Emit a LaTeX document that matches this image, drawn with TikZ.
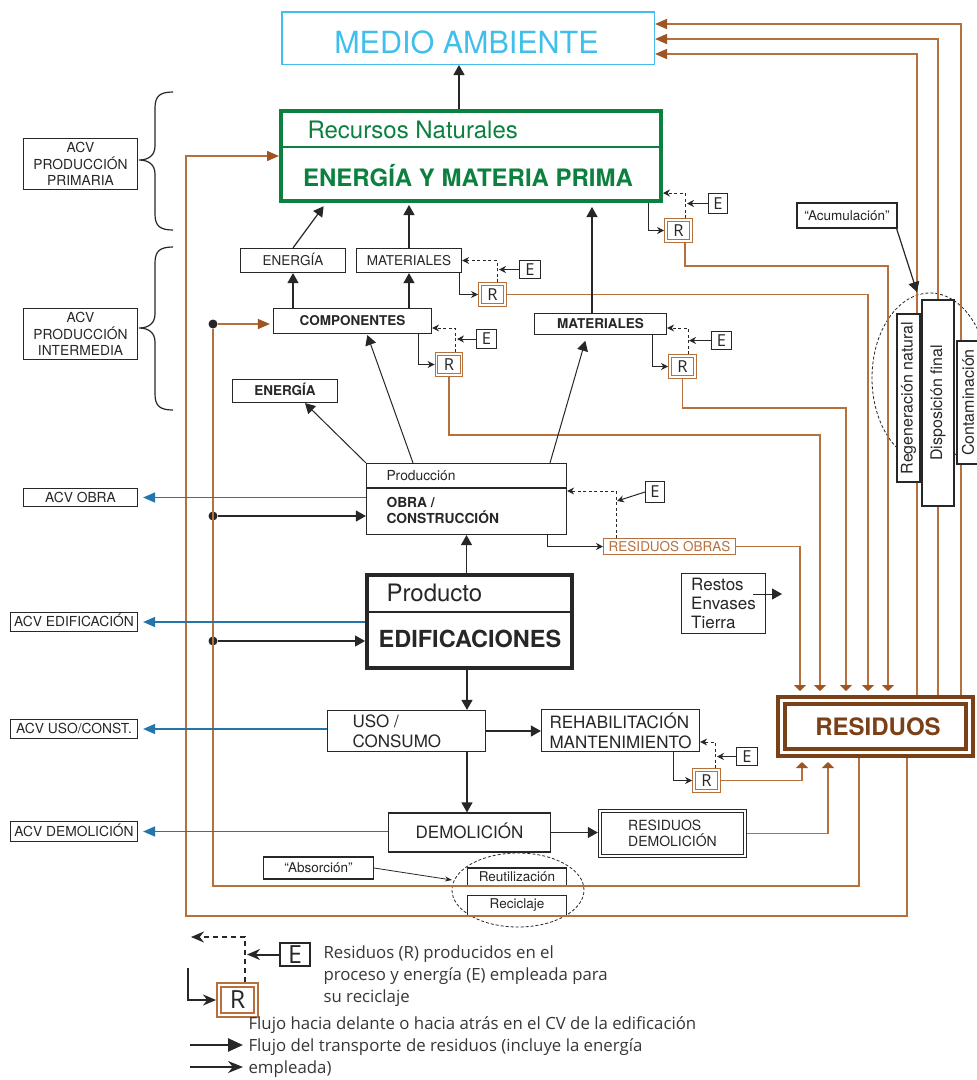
\documentclass[tikz,border=0pt]{standalone}
\usepackage{fontspec}
\setmainfont{TeX Gyre Heros}
\newfontfamily\legendfont{Open Sans}
\usetikzlibrary{arrows.meta}
\newcommand{\fsz}[2]{\fontsize{#1}{#2}\selectfont}

\definecolor{ink}{RGB}{40,38,38}
\definecolor{brw}{RGB}{182,112,62}
\definecolor{brwhead}{RGB}{160,84,34}
\definecolor{brwdark}{RGB}{122,64,24}
\definecolor{acvblue}{RGB}{36,118,170}
\definecolor{natgreen}{RGB}{12,128,62}
\definecolor{skycyan}{RGB}{64,190,236}
\definecolor{legtext}{RGB}{55,55,55}

\tikzset{
  box/.style={draw=ink, fill=white, line width=1.2pt, inner sep=0pt, text=ink},
  t135/.style={font=\fsz{13.5}{13.5}, text height=9.7pt, text depth=0pt},
  b135/.style={font=\bfseries\fsz{13.5}{13.5}, text height=9.7pt, text depth=0pt},
  t13/.style={font=\fsz{13.8}{13.8}, text height=9.9pt, text depth=0pt},
  t17/.style={font=\fsz{17}{17}, text height=12.2pt, text depth=0pt},
  flow/.style={draw=ink, line width=1.2pt, -{Triangle[length=10pt,width=11pt]}},
  tinyarr/.style={draw=ink, line width=1pt, -{Stealth[length=7pt,width=7pt]}},
  dsh/.style={draw=ink, line width=1pt, dash pattern=on 3pt off 2.5pt, -{Stealth[length=7pt,width=7pt]}},
  brline/.style={draw=brw, line width=1.4pt},
  brarr/.style={brline, -{Triangle[length=12pt,width=10pt,color=brwhead]}},
  brin/.style={brline, -{Triangle[length=6pt,width=12pt,color=brwhead]}, shorten >=4pt},
  bluearr/.style={draw=acvblue, line width=1.4pt, -{Triangle[length=12pt,width=10pt]}, shorten >=5pt},
  rbox/.style={draw=brw, double=white, double distance=1.8pt, line width=1pt, fill=white,
    inner sep=0pt, outer sep=1.9pt, minimum width=25pt, minimum height=21pt, text=ink,
    font=\legendfont\fsz{16.5}{16.5}},
  ebox/.style={draw=ink, fill=white, line width=1pt, inner sep=0pt, text=ink,
    font=\legendfont\fsz{16.5}{16.5}},
  vbox/.style={box, rotate=90, font=\fsz{16}{16}},
  dot/.style={circle, fill=ink, inner sep=0pt, minimum size=9pt},
  ovaldash/.style={draw=ink, line width=0.8pt, dash pattern=on 3pt off 2pt},
  legtxt/.style={anchor=base west, text=legtext, font=\legendfont\fsz{16.8}{16.8}},
}

\begin{document}
\begin{tikzpicture}[x=1pt,y=-1pt]
\fill[white] (0,0) rectangle (977,1080);
\useasboundingbox (0,0) rectangle (977,1080);
\clip (0,0) rectangle (977,1080);

% ---------- dashed groupings ----------
\draw[ovaldash] (930,378) ellipse [x radius=58pt, y radius=85pt];
\draw[ovaldash] (518,890) ellipse [x radius=66pt, y radius=37pt];

% ---------- main boxes ----------
\node[draw=skycyan, line width=1.5pt, fill=white, minimum width=372.5pt, minimum height=52.5pt, inner sep=0pt] (medio) at (468,38) {};
\node[anchor=base, text=skycyan, font=\fsz{30.5}{30.5}] (medioTxt) at (466.5,53) {MEDIO AMBIENTE};

\node[draw=natgreen, line width=4pt, fill=white, minimum width=380pt, minimum height=90pt, inner sep=0pt] (green) at (471,156) {};
\draw[natgreen, line width=1.3pt] (green.west |- 0,147) -- (green.east |- 0,147);
\node[anchor=base west, text=natgreen, font=\fsz{24}{24}] (recnat) at (304,138) {Recursos Naturales};
\node[anchor=base, text=natgreen, font=\bfseries\fsz{24}{24}] (emp) at (468,186) {ENERGÍA Y MATERIA PRIMA};

\node[box, t135, minimum width=105pt, minimum height=24pt] (energ1) at (293,260.5) {ENERGÍA};
\node[box, t135, minimum width=105pt, minimum height=24pt] (mat1) at (409,260.5) {MATERIALES};
\node[box, b135, minimum width=158pt, minimum height=25pt] (comp) at (352.5,321) {COMPONENTES};
\node[box, b135, minimum width=132pt, minimum height=21pt] (mat2) at (600.5,324) {MATERIALES};
\node[box, b135, minimum width=105pt, minimum height=23pt] (energ2) at (285,391) {ENERGÍA};

\node[box, minimum width=200pt, minimum height=71pt] (obra) at (466.5,499) {};
\draw[ink, line width=1.2pt] (obra.west |- 0,488) -- (obra.east |- 0,488);
\node[anchor=base west, text=ink, font=\fsz{13.8}{13.8}] (prodTxt) at (383,480) {Producción};
\node[anchor=base west, text=ink, font=\bfseries\fsz{13.8}{13.8}] (obraTxt1) at (383,507) {OBRA /};
\node[anchor=base west, text=ink, font=\bfseries\fsz{13.8}{13.8}] (obraTxt2) at (383,523) {CONSTRUCCIÓN};

\node[draw=ink, line width=4pt, fill=white, minimum width=205pt, minimum height=93pt, inner sep=0pt] (edif) at (469.5,621.5) {};
\draw[ink, line width=1.3pt] (edif.west |- 0,612) -- (edif.east |- 0,612);
\node[anchor=base west, text=ink, font=\fsz{24}{24}] (prodtoTxt) at (383,601) {Producto};
\node[anchor=base, text=ink, font=\bfseries\fsz{23.5}{23.5}] (edifTxt) at (470,647) {EDIFICACIONES};

\node[box, minimum width=158pt, minimum height=41pt] (uso) at (406.5,731) {};
\node[anchor=base west, text=ink, font=\fsz{17}{17}] (usoTxt1) at (349,727) {USO /};
\node[anchor=base west, text=ink, font=\fsz{17}{17}] (usoTxt2) at (349,747) {CONSUMO};

\node[box, align=left, font=\fsz{17}{20}, minimum width=158pt, minimum height=42pt] (rehab) at (620.5,730.5) {REHABILITACIÓN\\MANTENIMIENTO};
\node[box, t17, minimum width=162pt, minimum height=39pt] (demol) at (469.5,832.5) {DEMOLICIÓN};
\node[draw=ink, double=white, line width=1.2pt, double distance=2pt, fill=white, minimum width=145pt, minimum height=45pt,
  outer sep=2.2pt, inner sep=0pt, align=left, text=ink, font=\fsz{14}{16}] (resdem) at (672.5,833.5) {RESIDUOS\\DEMOLICIÓN};

\node[draw=brw, line width=1pt, fill=white, minimum width=132pt, minimum height=16pt, inner sep=0pt, text=brw,
  t135] (resobras) at (669.5,546.5) {RESIDUOS OBRAS};
\node[box, align=left, font=\fsz{17}{19}, minimum width=84pt, minimum height=60pt] (restos) at (723.5,603.5) {Restos\\Envases\\Tierra};

\node[draw=brwdark, double=white, line width=4pt, double distance=3pt, fill=white, minimum width=188pt, minimum height=52pt,
  inner sep=0pt, outer sep=5.5pt] (residuos) at (875.5,726.5) {};
\node[anchor=base, text=brwdark, font=\bfseries\fsz{24}{24}] (residuosTxt) at (878,735) {RESIDUOS};

\node[box, font=\fsz{13.5}{13.5}, minimum width=99pt, minimum height=18pt] (reut) at (517,877) {Reutilización};
\node[box, font=\fsz{13.5}{13.5}, minimum width=99pt, minimum height=20pt] (recic) at (517,905.5) {Reciclaje};
\node[box, font=\fsz{13.5}{13.5}, minimum width=110pt, minimum height=22pt] (absorc) at (318.5,868) {“Absorción”};

% ---------- life-cycle stage labels ----------
\node[box, align=center, font=\fsz{13.8}{16.5}, minimum width=114pt, minimum height=51pt] (acvprim) at (80.5,164) {ACV\\PRODUCCIÓN\\PRIMARIA};
\node[box, align=center, font=\fsz{13.8}{16.5}, minimum width=114pt, minimum height=51pt] (acvint) at (80.5,334) {ACV\\PRODUCCIÓN\\INTERMEDIA};
\node[box, t13, minimum width=114pt, minimum height=18pt] (acvobra) at (80.5,497.5) {ACV OBRA};
\node[box, t13, minimum width=127pt, minimum height=19pt] (acvedif) at (74,622) {ACV EDIFICACIÓN};
\node[box, t13, minimum width=127pt, minimum height=19pt] (acvuso) at (74,729) {ACV USO/CONST.};
\node[box, t13, minimum width=127pt, minimum height=20pt] (acvdem) at (74,831.5) {ACV DEMOLICIÓN};

% braces
\draw[ink, line width=1.2pt] (173,92) .. controls (160,92) and (155,96) .. (155,108) -- (155,146)
  .. controls (155,155) and (149,160) .. (139,160) .. controls (149,160) and (155,165) .. (155,174)
  -- (155,214) .. controls (155,226) and (160,230) .. (173,230);
\draw[ink, line width=1.2pt] (173,247) .. controls (160,247) and (155,251) .. (155,263) -- (155,314)
  .. controls (155,323) and (149,328) .. (139,328) .. controls (149,328) and (155,333) .. (155,342)
  -- (155,394) .. controls (155,406) and (160,410) .. (173,410);

% ---------- R / E blocks ----------
\node[rbox] (Rg) at (678.5,230.5) {R};
\node[ebox, minimum width=19pt, minimum height=20pt] (Eg) at (718,203.5) {E};
\node[rbox] (Rm1) at (492.5,294.5) {R};
\node[ebox, minimum width=21pt, minimum height=18pt] (Em1) at (530,269.5) {E};
\node[rbox] (Rc) at (449,364.5) {R};
\node[ebox, minimum width=20pt, minimum height=19pt] (Ec) at (486.5,339) {E};
\node[rbox] (Rm2) at (682.5,366.5) {R};
\node[ebox, minimum width=20pt, minimum height=18pt] (Em2) at (721.5,340.5) {E};
\node[rbox] (Rh) at (706.5,780.5) {R};
\node[ebox, minimum width=21pt, minimum height=18pt] (Eh) at (747,756.5) {E};
\node[ebox, minimum width=19pt, minimum height=21pt] (Eo) at (655,492) {E};

% ---------- waste flows (brown) ----------
\coordinate (bendG) at (888,266);
\coordinate (bendM2) at (846,408);
\coordinate (bendC) at (820,435);
\coordinate (loopIn) at (213,886);
\coordinate (loopOut) at (186,916);
\node[dot] (dot1) at (213,324) {};
\node[dot] (dot2) at (213,516) {};
\node[dot] (dot3) at (213,641) {};

\draw[brin] (resobras.east) -| (residuos.north -| 800,0);
\draw[brin] (Rc.south) |- (bendC) -- (residuos.north -| bendC);
\draw[brin] (Rm2.south) |- (bendM2) -- (residuos.north -| bendM2);
\draw[brin] (Rm1.east) -| (residuos.north -| 868,0);
\draw[brin] ([xshift=6.5pt]Rg.south) |- (bendG) -- (residuos.north -| bendG);
\draw[brin] (Rh.east) -| (residuos.south -| 802,0);
\draw[brin] (resdem.east) -| (residuos.south -| 828,0);

\draw[brline] (residuos.south -| 859,0) |- (loopIn) -- (dot1);
\draw[brarr] (residuos.south -| 907,0) |- (loopOut) |- (green.west);
\draw[brarr, shorten >=3pt] (dot1) -- (dot1 -| comp.west);

\draw[brarr] (residuos.north -| 961,0) |- ([yshift=14pt]medio.east);
\draw[brarr] (residuos.north -| 938,0) |- ([yshift=-1pt]medio.east);
\draw[brarr] (residuos.north -| 917,0) |- ([yshift=-16pt]medio.east);

% ---------- forward / backward flows ----------
\draw[flow] (green.north -| 459,0) -- (medio.south -| 459,0);
\draw[flow, shorten >=4pt] (energ1.north) -- (green.south -| 326,0);
\draw[flow, shorten >=2pt] (mat1.north) -- (mat1.north |- green.south);
\draw[flow, shorten >=4pt] (mat2.north -| 592,0) -- (green.south -| 592,0);
\draw[flow] (comp.north -| energ1.south) -- (energ1.south);
\draw[flow] (comp.north -| mat1.south) -- (mat1.south);
\draw[flow, line width=1pt] (obra.north west) -- (energ2.south -| 305,0);
\draw[flow, line width=1pt, shorten >=1pt] (obra.north -| 413,0) -- (comp.south -| 367,0);
\draw[flow, line width=1pt, shorten >=6pt] (obra.north -| 550,0) -- (mat2.south -| 587,0);
\draw[flow] (edif.north -| obra.south) -- (obra.south);
\draw[flow] (edif.south -| 467,0) -- (uso.north -| 467,0);
\draw[flow] (uso.south -| 467,0) -- (demol.north -| 467,0);
\draw[flow] (uso.east) -- (uso.east -| rehab.west);
\draw[flow] (demol.east) -- (demol.east -| resdem.west);
\draw[flow] (dot2) -- (dot2 -| obra.west);
\draw[flow] (dot3) -- (dot3 -| edif.west);

% ---------- R / E connectors ----------
\draw[tinyarr] (green.south -| 648,0) |- (Rg.west);
\draw[dsh] ([xshift=6.5pt]Rg.north) |- (green.east |- Eg.north);
\draw[tinyarr] (Eg.west) -- ++(-21,0);

\draw[tinyarr] (mat1.south -| 459,0) |- (Rm1.west);
\draw[dsh] ([xshift=4.5pt]Rm1.north) |- (mat1.east);
\draw[tinyarr] (Em1.west) -- ++(-20,0);

\draw[tinyarr] (comp.south -| 418,0) |- (Rc.west);
\draw[dsh] ([xshift=6pt]Rc.north) |- ([yshift=-7pt]comp.east);
\draw[tinyarr] (Ec.west) -- ++(-19,0);

\draw[tinyarr] (mat2.south -| 652,0) |- (Rm2.west);
\draw[dsh] ([xshift=5.5pt]Rm2.north) |- ([yshift=-4pt]mat2.east);
\draw[tinyarr] (Em2.west) -- ++(-22,0);

\draw[tinyarr] (rehab.south -| 673,0) |- (Rh.west);
\draw[dsh] ([xshift=8.5pt]Rh.north) |- ([yshift=-11.5pt]rehab.east);
\draw[tinyarr] (Eh.west) -- ++(-19,0);

\coordinate (eoTip) at (617,501);
\draw[tinyarr] (obra.south -| 547,0) |- (resobras.west);
\draw[dsh] (resobras.north -| 616,0) |- ([yshift=8pt]obra.east);
\draw[tinyarr] (Eo.west) -- (eoTip);

% ---------- life-cycle assessment arrows ----------
\draw[bluearr] (obra.west |- acvobra.east) -- (acvobra.east);
\draw[bluearr] (edif.west |- acvedif.east) -- (acvedif.east);
\draw[bluearr] (uso.west |- acvuso.east) -- (acvuso.east);
\draw[bluearr] (demol.west |- acvdem.east) -- (acvdem.east);

% ---------- misc pointers ----------
\coordinate (restosTip) at (782,594);
\draw[flow, line width=1pt] ([xshift=-13pt,yshift=9.5pt]restos.east) -- (restosTip);
\coordinate (absTip) at (452,880);
\draw[ink, line width=0.8pt, -{Stealth[length=7pt,width=5pt]}] (absorc.east) -- (absTip);

% ---------- final destinations ----------
\node[vbox, minimum width=168pt, minimum height=23pt] (regen) at (908.5,398) {Regeneración natural};
\node[vbox, minimum width=206pt, minimum height=32pt] (dispo) at (938,403) {Disposición final};
\node[vbox, minimum width=123pt, minimum height=22pt] (contam) at (968,402.5) {Contaminación};
\node[box, font=\fsz{13.5}{13.5}, minimum width=100pt, minimum height=25pt] (acum) at (847,215.5) {“Acumulación”};
\coordinate (acumTip) at (917,292);
\draw[flow] ([xshift=-1pt]acum.south east) -- (acumTip);

% ---------- legend ----------
\node[draw=ink, fill=white, line width=2pt, inner sep=0pt, minimum width=30pt, minimum height=23pt,
  text=ink, font=\legendfont\fsz{25}{25}] (legE) at (295,954.5) {E};
\node[draw=brw, double=white, double distance=2pt, line width=2pt, fill=white, inner sep=0pt, outer sep=3pt,
  minimum width=37pt, minimum height=30pt, text=ink, font=\legendfont\fsz{25}{25}] (legR) at (237.5,1000) {R};
\coordinate (legTip) at (191,937);
\coordinate (legL) at (188,968);
\draw[ink, line width=2pt, dash pattern=on 5pt off 4pt, -{Stealth[length=13pt,width=11pt]}] ([xshift=7.5pt]legR.north) |- (legTip);
\draw[ink, line width=2pt, -{Stealth[length=13pt,width=11pt]}] (legE.west) -- ++(-32,0);
\draw[ink, line width=2pt, -{Stealth[length=13pt,width=11pt]}] (legL) |- (legR.west);

\node[legtxt] (legT1) at (320,958) {Residuos (R) producidos en el};
\node[legtxt] (legT2) at (320,980) {proceso y energía (E) empleada para};
\node[legtxt] (legT3) at (320,1002) {su reciclaje};
\node[legtxt] (legF1) at (245,1029) {Flujo hacia delante o hacia atrás en el CV de la edificación};
\node[legtxt] (legF2) at (245,1051) {Flujo del transporte de residuos (incluye la energía};
\node[legtxt] (legF3) at (245,1073) {empleada)};
\coordinate (legA1s) at (190,1045);
\coordinate (legA1e) at (243,1045);
\coordinate (legA2s) at (190,1067);
\coordinate (legA2e) at (243,1067);
\draw[ink, line width=2.5pt, -{Triangle[length=15pt,width=13pt]}] (legA1s) -- (legA1e);
\draw[ink, line width=1.8pt, -{Stealth[length=15pt,width=12pt]}] (legA2s) -- (legA2e);
\end{tikzpicture}
\end{document}
